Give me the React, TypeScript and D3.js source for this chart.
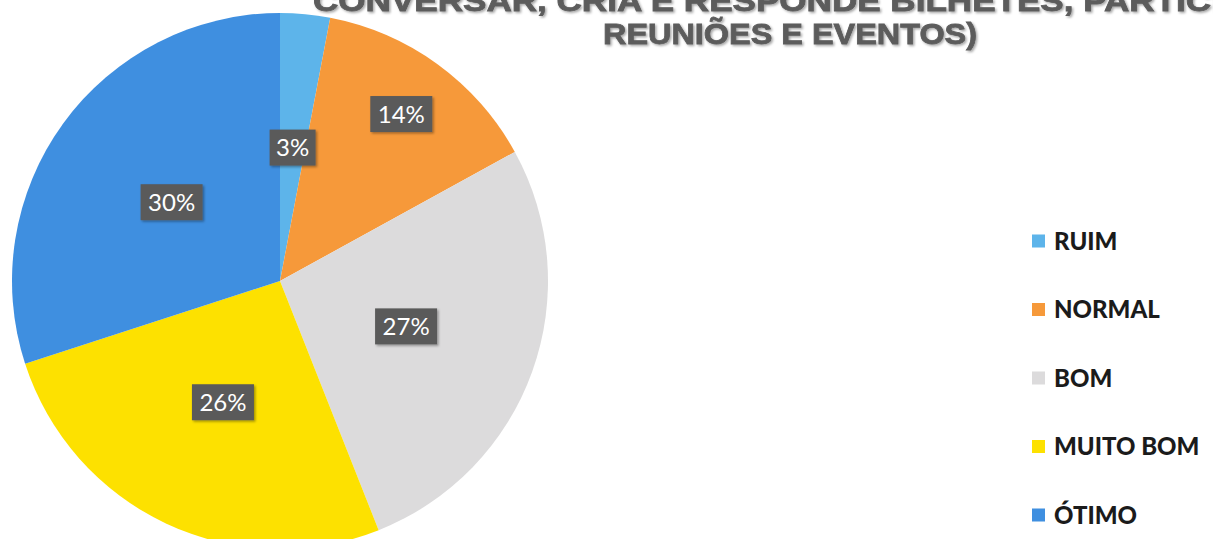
import React, { useEffect, useRef } from "react";
import * as d3 from "d3";

const CATEGORIES = ["RUIM", "NORMAL", "BOM", "MUITO BOM", "ÓTIMO"];
const VALUES = [3, 14, 27, 26, 30];
const COLORS = ["#5db4ea", "#f6993a", "#dcdbdc", "#fde100", "#3f8fe0"];
const TITLE_LINES = [
  "CONVERSAR, CRIA E RESPONDE BILHETES, PARTICIPA",
  "REUNIÕES E EVENTOS)",
];

const W = 1213;
const H = 539;

export default function App() {
  const ref = useRef<SVGSVGElement>(null);

  useEffect(() => {
    if (!ref.current) return;
    const svg = d3.select(ref.current);
    svg.selectAll("*").remove();

    const cx = 280,
      cy = 281,
      r = 268;

    const defs = svg.append("defs");
    const f = defs
      .append("filter")
      .attr("id", "shadow")
      .attr("x", "-20%")
      .attr("y", "-20%")
      .attr("width", "150%")
      .attr("height", "150%");
    f.append("feDropShadow")
      .attr("dx", 1.5)
      .attr("dy", 1.5)
      .attr("stdDeviation", 1.2)
      .attr("flood-color", "#000")
      .attr("flood-opacity", 0.35);

    const pie = d3
      .pie<number>()
      .sort(null)
      .value((d) => d);
    const arcs = pie(VALUES);
    const arc = d3
      .arc<d3.PieArcDatum<number>>()
      .innerRadius(0)
      .outerRadius(r);

    const g = svg.append("g").attr("transform", `translate(${cx},${cy})`);
    g.selectAll("path")
      .data(arcs)
      .enter()
      .append("path")
      .attr("d", arc)
      .attr("fill", (_, i) => COLORS[i]);

    // excel "best fit" put the NORMAL label further out
    const labelFactor = (i: number) => (i === 1 ? 0.77 : 0.5);
    const labels = g
      .selectAll("g.lbl")
      .data(arcs)
      .enter()
      .append("g")
      .attr("class", "lbl")
      .attr("transform", (d, i) => {
        const lr = r * labelFactor(i);
        const c = d3
          .arc<d3.PieArcDatum<number>>()
          .innerRadius(lr)
          .outerRadius(lr)
          .centroid(d);
        return `translate(${c[0]},${c[1]})`;
      });
    labels
      .append("rect")
      .attr("x", (d) => (d.data < 10 ? -23 : -31))
      .attr("y", -18)
      .attr("width", (d) => (d.data < 10 ? 46 : 62))
      .attr("height", 36)
      .attr("fill", "#5a5a5a")
      .attr("filter", "url(#shadow)");
    labels
      .append("text")
      .attr("text-anchor", "middle")
      .attr("dy", "0.36em")
      .attr("fill", "#fff")
      .attr("font-family", "Lato, 'Open Sans', sans-serif")
      .attr("font-size", 24)
      .text((d) => `${d.data}%`);

    // title (top line is cut off in the source)
    const title = svg
      .append("g")
      .attr("font-family", "'Liberation Sans', Arial, sans-serif")
      .attr("font-weight", "bold")
      .attr("font-size", 30)
      .attr("fill", "#5c5c5c")
      .attr("stroke", "#5c5c5c")
      .attr("stroke-width", 0.8)
      .attr("filter", "url(#shadow)");
    title
      .append("text")
      .attr("x", 790)
      .attr("y", 11)
      .attr("text-anchor", "middle")
      .attr("textLength", 954)
      .attr("lengthAdjust", "spacingAndGlyphs")
      .text(TITLE_LINES[0]);
    title
      .append("text")
      .attr("x", 790)
      .attr("y", 44)
      .attr("text-anchor", "middle")
      .attr("textLength", 374)
      .attr("lengthAdjust", "spacingAndGlyphs")
      .text(TITLE_LINES[1]);

    // legend
    const ly = d3
      .scalePoint<string>()
      .domain(CATEGORIES)
      .range([241, 515]);
    const leg = svg
      .append("g")
      .selectAll("g")
      .data(CATEGORIES)
      .enter()
      .append("g")
      .attr("transform", (d) => `translate(1032,${ly(d)})`);
    leg
      .append("rect")
      .attr("x", 0)
      .attr("y", -6.5)
      .attr("width", 13)
      .attr("height", 13)
      .attr("fill", (_, i) => COLORS[i]);
    leg
      .append("text")
      .attr("x", 22)
      .attr("dy", "0.36em")
      .attr("font-family", "Lato, 'Open Sans', sans-serif")
      .attr("font-weight", 900)
      .attr("font-size", 24)
      .attr("fill", "#1b1b1b")
      .text((d) => d);
  }, []);

  return (
    <svg
      ref={ref}
      width={W}
      height={H}
      style={{ position: "absolute", left: 0, top: 0, background: "#fff" }}
    />
  );
}
